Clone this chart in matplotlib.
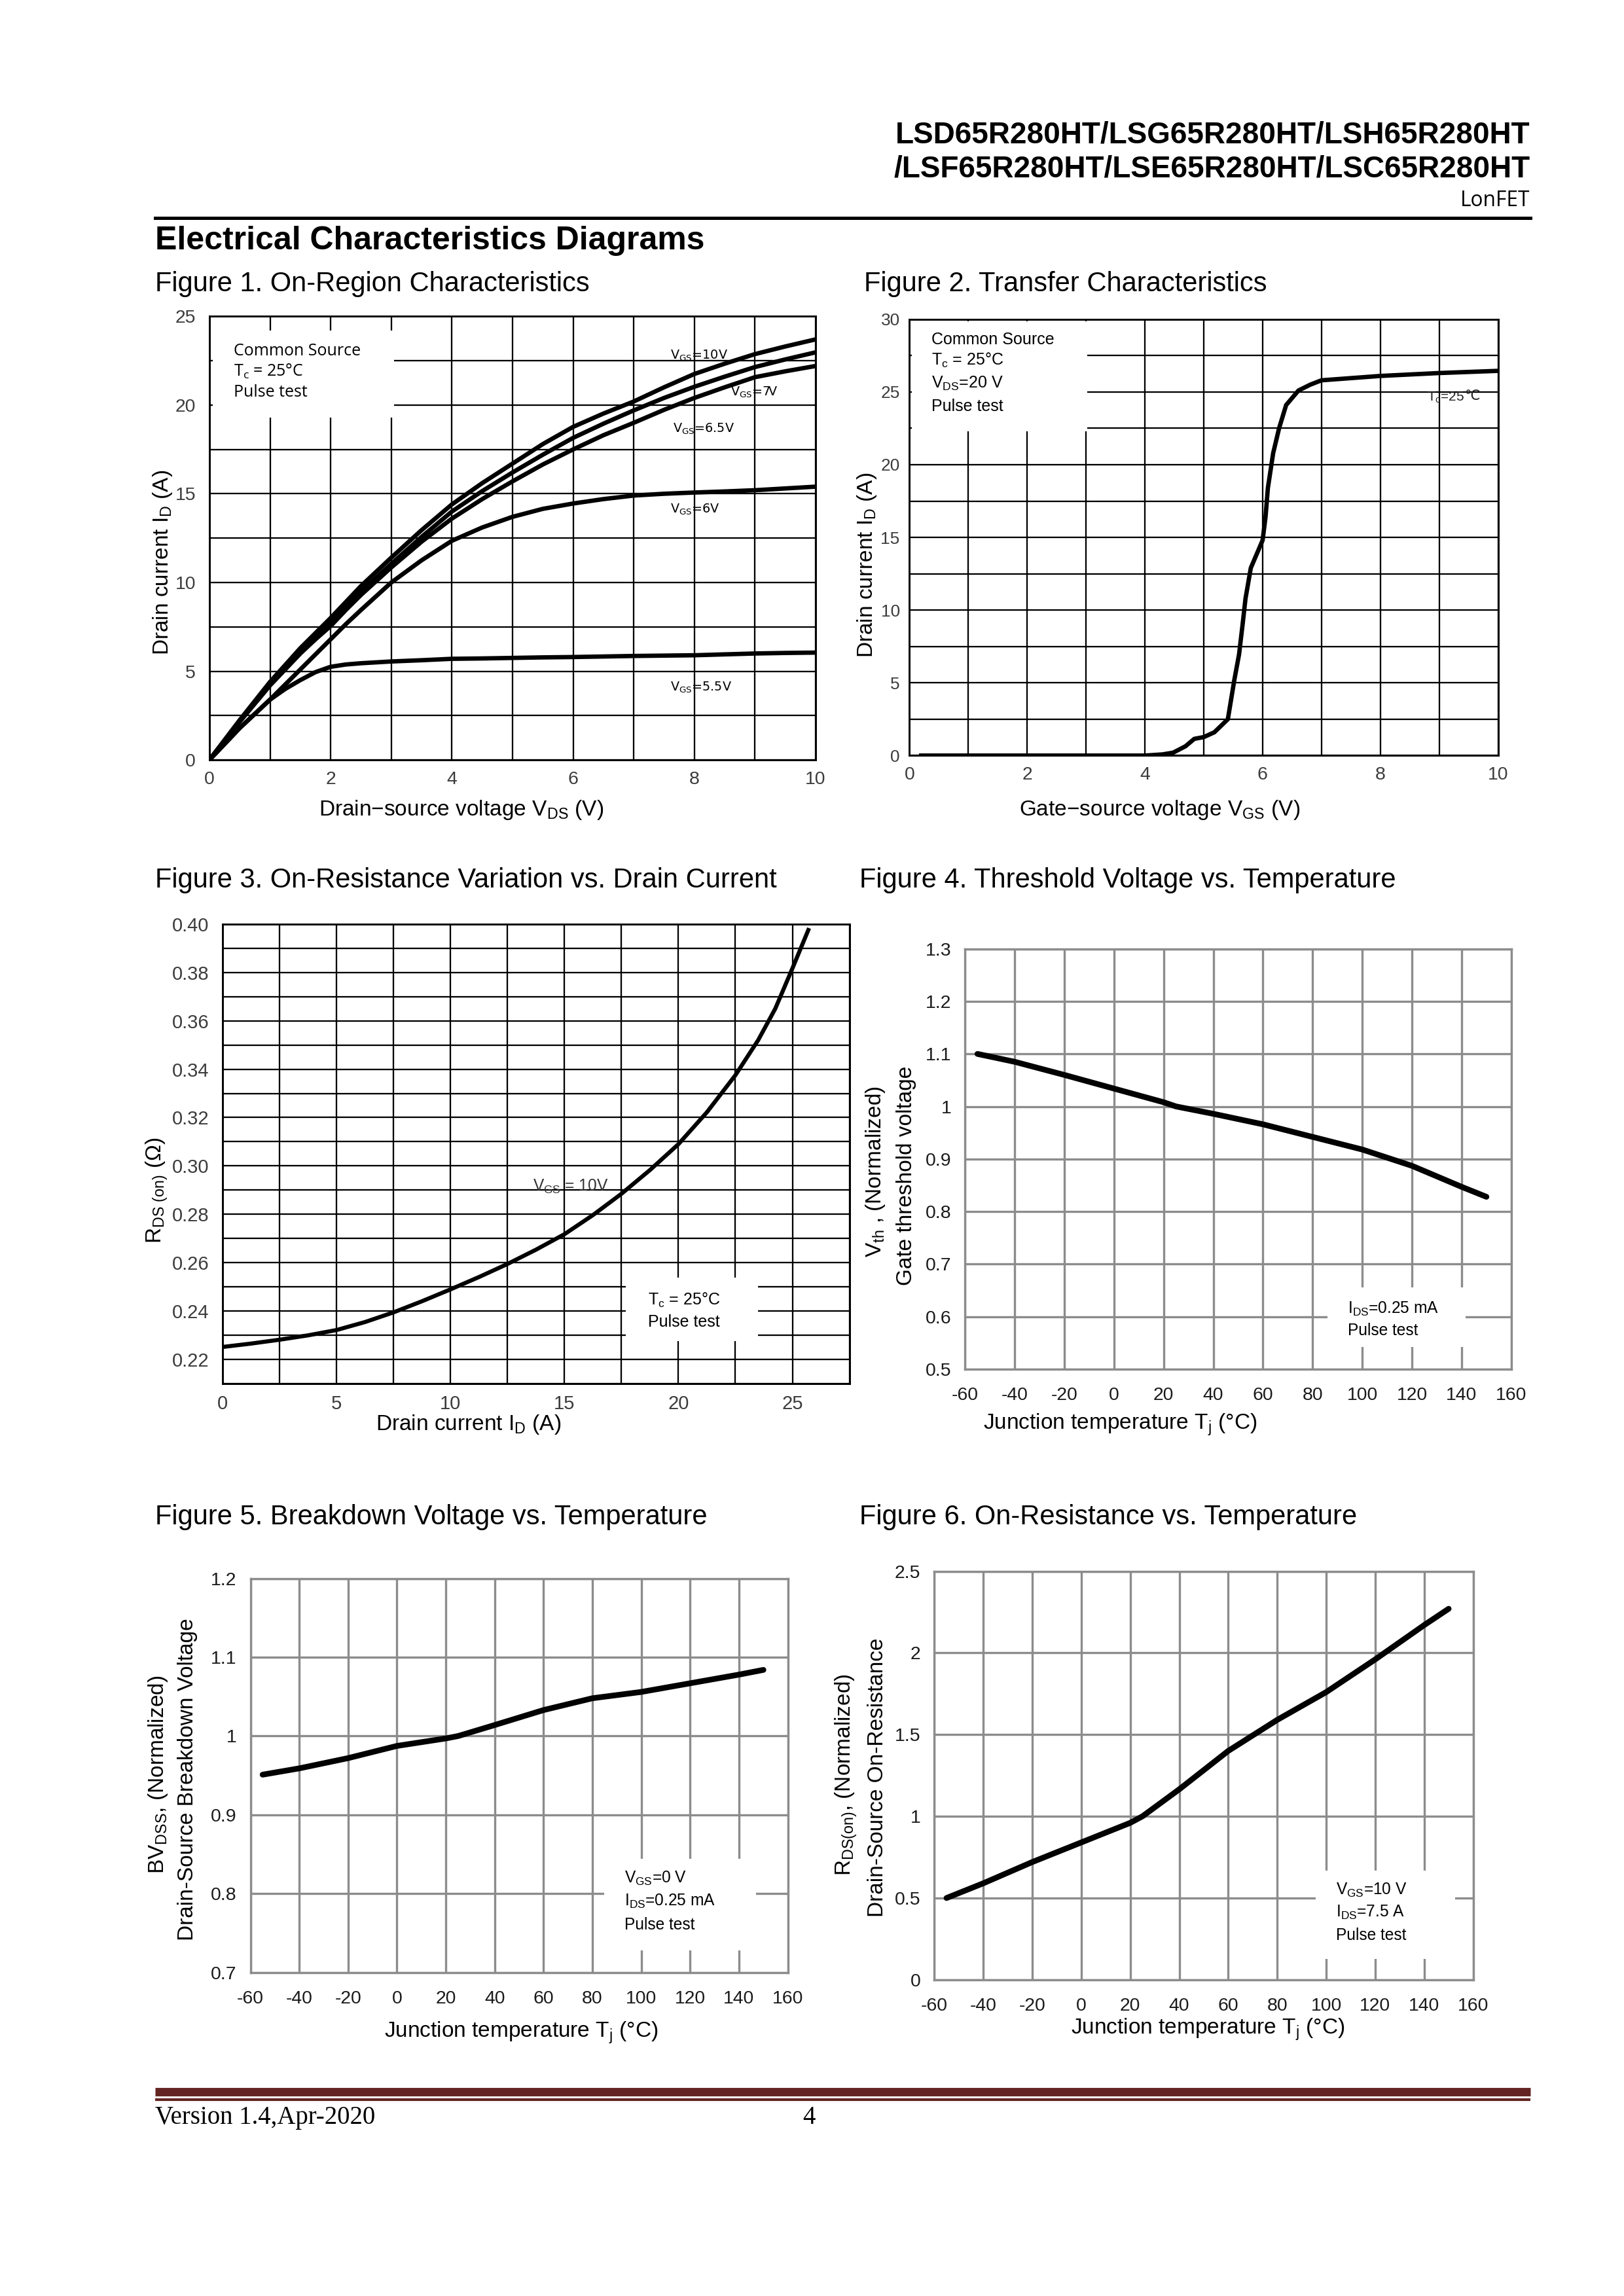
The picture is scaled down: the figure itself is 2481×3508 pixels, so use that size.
import matplotlib
matplotlib.use("Agg")
import matplotlib.pyplot as plt
from matplotlib.patches import Rectangle
from matplotlib.ticker import FixedLocator, FuncFormatter

plt.rcParams['font.family'] = ['Liberation Sans', 'DejaVu Sans']
plt.rcParams['mathtext.fontset'] = 'custom'
plt.rcParams['mathtext.rm'] = 'Liberation Sans'
plt.rcParams['mathtext.it'] = 'Liberation Sans'
plt.rcParams['mathtext.bf'] = 'Liberation Sans:bold'
plt.rcParams['mathtext.default'] = 'regular'

# ---------------- data ----------------
# Figure 1: On-region characteristics
vds = [0, 0.5, 1, 1.25, 1.5, 1.75, 2, 2.25, 2.5, 3, 3.5, 4, 4.5, 5, 5.5, 6, 6.5, 7, 7.5,
       8, 8.5, 9, 9.5, 10]
id_vgs10 = [0, 2.25, 4.4, 5.35, 6.3, 7.15, 8.0, 8.9, 9.8, 11.4, 12.95, 14.4, 15.6, 16.7, 17.8,
            18.77, 19.52, 20.2, 21.0, 21.75, 22.33, 22.87, 23.3, 23.7]
id_vgs7 = [0, 2.2, 4.3, 5.25, 6.15, 7.0, 7.8, 8.65, 9.5, 11.05, 12.57, 14.0, 15.15, 16.2, 17.2,
           18.15, 18.95, 19.7, 20.4, 21.03, 21.6, 22.14, 22.57, 22.97]
id_vgs65 = [0, 2.15, 4.2, 5.1, 6.0, 6.8, 7.55, 8.45, 9.3, 10.85, 12.3, 13.6, 14.7, 15.7, 16.65,
            17.5, 18.3, 19.0, 19.73, 20.4, 21.0, 21.57, 21.9, 22.2]
id_vgs6 = [0, 1.8, 3.4, 4.25, 5.1, 5.95, 6.8, 7.65, 8.45, 10.0, 11.25, 12.35, 13.1, 13.7, 14.15,
           14.45, 14.7, 14.9, 15.0, 15.07, 15.13, 15.2, 15.3, 15.4]
id_vgs55 = [0, 1.8, 3.4, 4.0, 4.5, 4.95, 5.25, 5.38, 5.45, 5.55, 5.62, 5.7, 5.72, 5.75, 5.78,
            5.8, 5.83, 5.86, 5.88, 5.9, 5.95, 6.0, 6.03, 6.05]
fig1_labels = ["$V_{GS}$=10V", "$V_{GS}$=7V", "$V_{GS}$=6.5V", "$V_{GS}$=6V", "$V_{GS}$=5.5V"]
fig1_xticks = [0, 2, 4, 6, 8, 10]
fig1_yticks = [0, 5, 10, 15, 20, 25]

# Figure 2: transfer characteristics
vgs = [0.2, 1, 2, 3, 4, 4.3, 4.48, 4.69, 4.84, 5.0, 5.18, 5.41, 5.52, 5.6, 5.66, 5.71,
       5.8, 6.0, 6.05, 6.09, 6.18, 6.28, 6.4, 6.61, 6.81, 7.0, 8.0, 9.0, 10.0]
id_transfer = [0, 0, 0, 0, 0, 0.08, 0.2, 0.64, 1.15, 1.27, 1.6, 2.5, 5.2, 6.95, 9.0, 10.8,
               12.9, 14.8, 16.4, 18.4, 20.8, 22.5, 24.1, 25.1, 25.5, 25.8, 26.1, 26.3, 26.45]
fig2_xticks = [0, 2, 4, 6, 8, 10]
fig2_yticks = [0, 5, 10, 15, 20, 25, 30]

# Figure 3: on-resistance vs drain current
id_rds = [0, 1.25, 2.5, 3.75, 5, 6.25, 7.5, 8.75, 10, 11.25, 12.5, 13.75, 15, 16.25, 17.5,
          18.75, 20, 21.25, 22.5, 23.5, 24.25, 25, 25.7]
rds_on = [0.2252, 0.2266, 0.2282, 0.2300, 0.2322, 0.2355, 0.2395, 0.2441, 0.2490, 0.2541,
          0.2595, 0.2654, 0.2718, 0.2797, 0.2885, 0.2983, 0.3090, 0.3222, 0.3375, 0.3520,
          0.3650, 0.3816, 0.3975]
fig3_xticks = [0, 5, 10, 15, 20, 25]
fig3_yticks = [0.22, 0.24, 0.26, 0.28, 0.30, 0.32, 0.34, 0.36, 0.38, 0.40]

# Figure 4: threshold voltage vs temperature
tj4 = [-55, -40, -20, 0, 20, 25, 40, 60, 80, 100, 120, 140, 150]
vth_norm = [1.10, 1.085, 1.06, 1.034, 1.008, 1.0, 0.986, 0.966, 0.942, 0.918, 0.887, 0.847, 0.828]
temp_ticks = [-60, -40, -20, 0, 20, 40, 60, 80, 100, 120, 140, 160]
fig4_yticks = [0.5, 0.6, 0.7, 0.8, 0.9, 1.0, 1.1, 1.2, 1.3]

# Figure 5: breakdown voltage vs temperature
tj5 = [-55, -40, -20, 0, 20, 25, 40, 60, 80, 100, 120, 140, 150]
bvdss_norm = [0.951, 0.959, 0.972, 0.9875, 0.997, 1.0, 1.014, 1.033, 1.048, 1.056, 1.067, 1.078, 1.084]
fig5_yticks = [0.7, 0.8, 0.9, 1.0, 1.1, 1.2]

# Figure 6: on-resistance vs temperature
tj6 = [-55, -40, -20, 0, 20, 25, 40, 60, 80, 100, 120, 140, 150]
rdson_norm = [0.50, 0.59, 0.72, 0.84, 0.96, 1.0, 1.165, 1.40, 1.59, 1.76, 1.96, 2.17, 2.27]
fig6_yticks = [0, 0.5, 1.0, 1.5, 2.0, 2.5]

# ---------------- layout helpers ----------------
W, H = 1109.0, 1568.0


def fx(x):
    return x / W


def fy(y):
    return 1 - y / H


def rect(x0, y0, x1, y1):
    return [fx(x0), fy(y1), (x1 - x0) / W, (y1 - y0) / H]


gfmt = FuncFormatter(lambda v, p: ('%g' % round(v, 6)))

fig = plt.figure(figsize=(2481 / 300, 3508 / 300), dpi=300)


def black_grid_axes(r, xlim, ylim, xmaj, xmin, ymaj, ymin, yfmt=None):
    ax = fig.add_axes(r)
    ax.set_xlim(*xlim)
    ax.set_ylim(*ylim)
    ax.xaxis.set_major_locator(FixedLocator(xmaj))
    ax.xaxis.set_minor_locator(FixedLocator(xmin))
    ax.yaxis.set_major_locator(FixedLocator(ymaj))
    ax.yaxis.set_minor_locator(FixedLocator(ymin))
    ax.xaxis.set_major_formatter(gfmt)
    ax.yaxis.set_major_formatter(yfmt if yfmt is not None else gfmt)
    ax.set_axisbelow(True)
    ax.grid(True, which='both', color='black', lw=0.55)
    ax.tick_params(which='both', length=0, labelsize=6.8, labelcolor='#3c3c3c')
    ax.tick_params(axis='x', pad=4)
    ax.tick_params(axis='y', pad=5)
    for s in ax.spines.values():
        s.set_linewidth(0.7)
        s.set_color('black')
    return ax


def gray_grid_axes(r, ylim, ymaj):
    ax = fig.add_axes(r)
    ax.set_xlim(-60, 160)
    ax.set_ylim(*ylim)
    ax.xaxis.set_major_locator(FixedLocator(temp_ticks))
    ax.yaxis.set_major_locator(FixedLocator(ymaj))
    ax.xaxis.set_major_formatter(gfmt)
    ax.yaxis.set_major_formatter(gfmt)
    ax.set_axisbelow(True)
    ax.grid(True, which='major', color='#8c8c8c', lw=0.8)
    ax.tick_params(which='both', length=0, labelsize=6.8, labelcolor='#1a1a1a')
    ax.tick_params(axis='x', pad=6.5)
    ax.tick_params(axis='y', pad=5)
    for s in ax.spines.values():
        s.set_linewidth(0.8)
        s.set_color('#8c8c8c')
    return ax


def white_box(ax, x0, y0, x1, y1):
    ax.add_patch(Rectangle((x0, y0), x1 - x0, y1 - y0, facecolor='white',
                           edgecolor='none', zorder=1))


# ---------------- header ----------------
fig.text(fx(1045), fy(92.5), "LSD65R280HT/LSG65R280HT/LSH65R280HT", ha='right', va='center',
         fontsize=11, fontweight='bold')
fig.text(fx(1045), fy(115.5), "/LSF65R280HT/LSE65R280HT/LSC65R280HT", ha='right', va='center',
         fontsize=11, fontweight='bold')
fig.text(fx(1045), fy(137), "LonFET", ha='right', va='center', fontsize=7.6,
         family=['Open Sans', 'Liberation Sans'])
fig.add_artist(plt.Line2D([fx(106), fx(1045)], [fy(149), fy(149)], color='black', lw=1.2))
fig.text(fx(106), fy(164.5), "Electrical Characteristics Diagrams", ha='left', va='center',
         fontsize=12, fontweight='bold')

# figure titles
fig.text(fx(106), fy(194), "Figure 1. On-Region Characteristics", ha='left', va='center', fontsize=10)
fig.text(fx(590), fy(194), "Figure 2. Transfer Characteristics", ha='left', va='center', fontsize=10)
fig.text(fx(106), fy(601), "Figure 3. On-Resistance Variation vs. Drain Current", ha='left', va='center', fontsize=10)
fig.text(fx(587), fy(601), "Figure 4. Threshold Voltage vs. Temperature", ha='left', va='center', fontsize=10)
fig.text(fx(106), fy(1036), "Figure 5. Breakdown Voltage vs. Temperature", ha='left', va='center', fontsize=10)
fig.text(fx(587), fy(1036), "Figure 6. On-Resistance vs. Temperature", ha='left', va='center', fontsize=10)

# ---------------- Figure 1 ----------------
ax1 = black_grid_axes(rect(143, 216, 557, 519), (0, 10), (0, 25),
                      fig1_xticks, [1, 3, 5, 7, 9], fig1_yticks, [2.5, 7.5, 12.5, 17.5, 22.5])
for curve in (id_vgs10, id_vgs7, id_vgs65, id_vgs6, id_vgs55):
    ax1.plot(vds, curve, color='black', lw=1.6, zorder=2)
white_box(ax1, 0.06, 19.3, 3.05, 24.2)
box_font = dict(fontsize=6.0, family=['Open Sans', 'Liberation Sans'], va='center', ha='left', zorder=3)
ax1.text(0.4, 23.05, "Common Source", **box_font)
ax1.text(0.4, 21.9, "$T_c$ = 25°C", **box_font)
ax1.text(0.4, 20.7, "Pulse test", **box_font)
lab_font = dict(fontsize=4.6, family=['DejaVu Sans'], va='center', ha='left', zorder=3)
ax1.text(7.6, 22.8, fig1_labels[0], **lab_font)
ax1.text(8.6, 20.7, fig1_labels[1], **lab_font)
ax1.text(7.64, 18.65, fig1_labels[2], **lab_font)
ax1.text(7.6, 14.1, fig1_labels[3], **lab_font)
ax1.text(7.6, 4.1, fig1_labels[4], **lab_font)
fig.text(fx(315), fy(553), "Drain\u2212source voltage $V_{DS}$ (V)", ha='center', va='center', fontsize=8)
fig.text(fx(111), fy(384), "Drain current $I_D$ (A)", ha='center', va='center', rotation=90, fontsize=8)

# ---------------- Figure 2 ----------------
ax2 = black_grid_axes(rect(621, 218, 1023, 516), (0, 10), (0, 30),
                      fig2_xticks, [1, 3, 5, 7, 9], fig2_yticks,
                      [2.5, 7.5, 12.5, 17.5, 22.5, 27.5])
ax2.tick_params(axis='y', labelsize=6.3, pad=3.5)
ax2.plot(vgs, id_transfer, color='black', lw=1.6, zorder=2)
white_box(ax2, 0.04, 22.3, 3.02, 29.85)
box_font2 = dict(fontsize=6.0, va='center', ha='left', zorder=3)
ax2.text(0.38, 28.57, "Common Source", **box_font2)
ax2.text(0.38, 27.2, "$T_c$ = 25°C", **box_font2)
ax2.text(0.38, 25.6, "$V_{DS}$=20 V", **box_font2)
ax2.text(0.38, 24.0, "Pulse test", **box_font2)
t_tc = ax2.text(8.79, 24.6, "$T_c$=25", fontsize=5.0, va='center', ha='left', zorder=3, color='#222222')
ax2.annotate("\u2103", xy=(1.0, 0.62), xycoords=t_tc, va='center', ha='left', fontsize=5.0,
             family=['DejaVu Sans'], color='#222222', zorder=3)
fig.text(fx(792), fy(553), "Gate\u2212source voltage $V_{GS}$ (V)", ha='center', va='center', fontsize=8)
fig.text(fx(592), fy(386), "Drain current $I_D$ (A)", ha='center', va='center', rotation=90, fontsize=8)

# ---------------- Figure 3 ----------------
ax3 = black_grid_axes(rect(152, 631, 580, 945), (0, 27.5), (0.21, 0.40),
                      fig3_xticks, [2.5, 7.5, 12.5, 17.5, 22.5, 27.5], fig3_yticks,
                      [0.21, 0.23, 0.25, 0.27, 0.29, 0.31, 0.33, 0.35, 0.37, 0.39],
                      yfmt=FuncFormatter(lambda v, p: '%.2f' % v))
ax3.tick_params(labelsize=7)
ax3.plot(id_rds, rds_on, color='black', lw=1.5, zorder=2)
white_box(ax3, 17.7, 0.2276, 23.5, 0.2538)
ax3.text(18.66, 0.2446, "$T_c$ = 25°C", fontsize=6.0, va='center', ha='left', zorder=3)
ax3.text(18.66, 0.2356, "Pulse test", fontsize=6.0, va='center', ha='left', zorder=3)
ax3.text(13.6, 0.2915, "$V_{GS}$ = 10V", fontsize=5.9, va='center', ha='left', zorder=3, color='#333333')
fig.text(fx(320), fy(973), "Drain current $I_D$ (A)", ha='center', va='center', fontsize=8)
fig.text(fx(107), fy(813), "$R_{DS\\ (on)}$ (\u03a9)", ha='center', va='center', rotation=90, fontsize=8)

# ---------------- Figure 4 ----------------
ax4 = gray_grid_axes(rect(659, 648, 1032, 935), (0.5, 1.3), fig4_yticks)
ax4.plot(tj4, vth_norm, color='black', lw=2.1, zorder=2, solid_capstyle='round')
white_box(ax4, 86, 0.542, 141.5, 0.656)
ax4.text(94.2, 0.615, "$I_{DS}$=0.25 mA", fontsize=5.9, va='center', ha='left', zorder=3)
ax4.text(94.2, 0.573, "Pulse test", fontsize=5.9, va='center', ha='left', zorder=3)
fig.text(fx(765), fy(973), "Junction temperature $T_j$ (°C)", ha='center', va='center', fontsize=8)
fig.text(fx(598), fy(800), "$V_{th}$ , (Normalized)", ha='center', va='center', rotation=90, fontsize=8)
fig.text(fx(619), fy(803), "Gate threshold voltage", ha='center', va='center', rotation=90, fontsize=8)

# ---------------- Figure 5 ----------------
ax5 = gray_grid_axes(rect(171, 1078, 538, 1347), (0.7, 1.2), fig5_yticks)
ax5.plot(tj5, bvdss_norm, color='black', lw=2.1, zorder=2, solid_capstyle='round')
white_box(ax5, 84.8, 0.728, 146.9, 0.844)
ax5.text(93, 0.819, "$V_{GS}$=0 V", fontsize=5.9, va='center', ha='left', zorder=3)
ax5.text(93, 0.790, "$I_{DS}$=0.25 mA", fontsize=5.9, va='center', ha='left', zorder=3)
ax5.text(93, 0.760, "Pulse test", fontsize=5.9, va='center', ha='left', zorder=3)
fig.text(fx(356), fy(1388), "Junction temperature $T_j$ (°C)", ha='center', va='center', fontsize=8)
fig.text(fx(108), fy(1212), "$BV_{DSS}$, (Normalized)", ha='center', va='center', rotation=90, fontsize=8)
fig.text(fx(128), fy(1215), "Drain-Source Breakdown Voltage", ha='center', va='center', rotation=90, fontsize=8)

# ---------------- Figure 6 ----------------
ax6 = gray_grid_axes(rect(638, 1073, 1006, 1352), (0, 2.5), fig6_yticks)
ax6.plot(tj6, rdson_norm, color='black', lw=2.1, zorder=2, solid_capstyle='round')
white_box(ax6, 95.8, 0.128, 152.7, 0.669)
ax6.text(104, 0.55, "$V_{GS}$=10 V", fontsize=5.9, va='center', ha='left', zorder=3)
ax6.text(104, 0.41, "$I_{DS}$=7.5 A", fontsize=5.9, va='center', ha='left', zorder=3)
ax6.text(104, 0.27, "Pulse test", fontsize=5.9, va='center', ha='left', zorder=3)
fig.text(fx(825), fy(1386), "Junction temperature $T_j$ (°C)", ha='center', va='center', fontsize=8)
fig.text(fx(578), fy(1212), "$R_{DS(on)}$, (Normalized)", ha='center', va='center', rotation=90, fontsize=8)
fig.text(fx(599), fy(1214), "Drain-Source On-Resistance", ha='center', va='center', rotation=90, fontsize=8)

# ---------------- footer ----------------
fig.add_artist(plt.Line2D([fx(106), fx(1045)], [0.0888, 0.0888], color='#632523', lw=3.1,
                          solid_capstyle='butt'))
fig.add_artist(plt.Line2D([fx(106), fx(1045)], [0.0856, 0.0856], color='#632523', lw=1.0,
                          solid_capstyle='butt'))
fig.text(fx(106), fy(1446), "Version 1.4,Apr-2020", ha='left', va='center', fontsize=9.3,
         family=['Liberation Serif'])
fig.text(fx(548), fy(1446), "4", ha='left', va='center', fontsize=9.3, family=['Liberation Serif'])

fig.savefig("out.png", dpi=300, facecolor='white')
